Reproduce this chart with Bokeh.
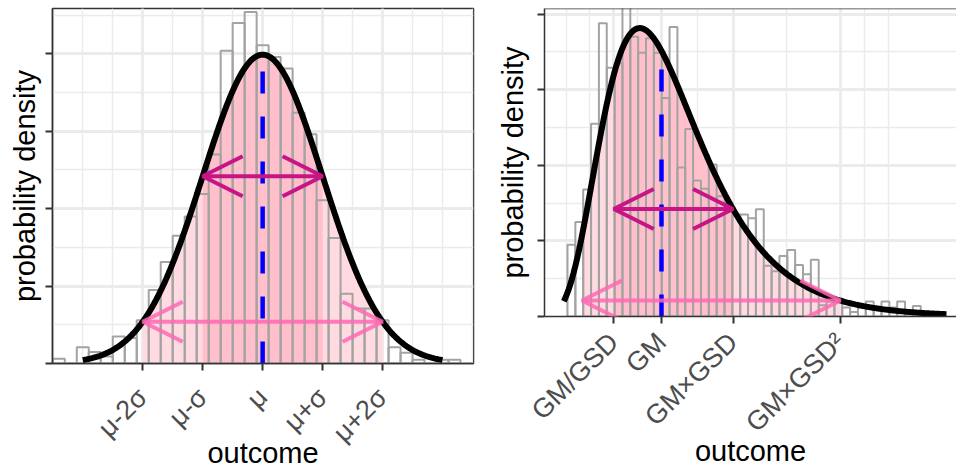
import numpy as np
from bokeh.plotting import figure
from bokeh.layouts import row
from bokeh.models import FixedTicker, Arrow, OpenHead, Span, Range1d
from bokeh.embed import file_html
from bokeh.resources import INLINE

# ---- normal distribution panel -------------------------------------------
norm_mu = 0.0
norm_sigma = 1.0
norm_bin_width = 0.2
norm_bin_centers = [-3.4, -3.2, -3.0, -2.8, -2.6, -2.4, -2.2, -2.0, -1.8, -1.6,
                    -1.4, -1.2, -1.0, -0.8, -0.6, -0.4, -0.2, 0.0, 0.2, 0.4,
                    0.6, 0.8, 1.0, 1.2, 1.4, 1.6, 1.8, 2.0, 2.2, 2.4,
                    2.6, 2.8, 3.0, 3.2]
norm_hist_density = [0.006, 0.0, 0.021, 0.015, 0.009, 0.035, 0.033, 0.056, 0.095, 0.131,
                     0.165, 0.19, 0.219, 0.27, 0.404, 0.44, 0.454, 0.411, 0.396, 0.381,
                     0.324, 0.296, 0.211, 0.162, 0.090, 0.071, 0.071, 0.056, 0.021, 0.014,
                     0.005, 0.0, 0.005, 0.005]
norm_tick_k = [-2, -1, 0, 1, 2]
norm_tick_labels = ["μ-2σ", "μ-σ", "μ", "μ+σ", "μ+2σ"]

# ---- log-normal distribution panel ---------------------------------------
lnorm_gm = 2.8
lnorm_gsd = 1.5
lnorm_bin_start = 0.961
lnorm_bin_width = 0.1536
lnorm_hist_density = [0.095, 0.125, 0.168, 0.255, 0.388, 0.329, 0.335, 0.42, 0.37, 0.349,
                      0.368, 0.349, 0.289, 0.383, 0.197, 0.248, 0.180, 0.169, 0.201, 0.159,
                      0.150, 0.135, 0.135, 0.130, 0.142, 0.067, 0.060, 0.080, 0.088, 0.068,
                      0.056, 0.075, 0.015, 0.020, 0.020, 0.012, 0.006, 0.012, 0.020, 0.012,
                      0.020, 0.012, 0.020, 0.008, 0.014]
lnorm_curve_range = (0.889, 8.377)
lnorm_tick_p = [-1, 0, 1, 2]
lnorm_tick_labels = ["GM/GSD", "GM", "GM×GSD", "GM×GSD²"]

density_ticks = [0.0, 0.1, 0.2, 0.3, 0.4]

FONT = "Liberation Sans"
PINK_LIGHT = "#FFDAE0"
PINK_DARK = "#FFC0CB"
GRID = "#EBEBEB"
BORDER = "#333333"
BAR_LINE = "#A3A3A3"
ARROW_WIDE = "#FF69B4"
ARROW_NARROW = "#C71585"


def dnorm(x):
    return np.exp(-(x - norm_mu) ** 2 / (2 * norm_sigma ** 2)) / (norm_sigma * np.sqrt(2 * np.pi))


def dlnorm(x):
    s = np.log(lnorm_gsd)
    return np.exp(-(np.log(x) - np.log(lnorm_gm)) ** 2 / (2 * s ** 2)) / (x * s * np.sqrt(2 * np.pi))


def style(p, xticks, xminor, xlabels, yminor, label_standoff, title_standoff, ytitle_standoff):
    p.background_fill_color = "white"
    p.border_fill_color = "white"
    p.xaxis.ticker = FixedTicker(ticks=xticks, minor_ticks=xminor)
    p.yaxis.ticker = FixedTicker(ticks=density_ticks, minor_ticks=yminor)
    p.xaxis.major_label_overrides = {t: lab for t, lab in zip(xticks, xlabels)}
    p.yaxis.major_label_overrides = {t: "" for t in density_ticks}
    p.xaxis.major_label_orientation = np.pi / 4
    for ax in (p.xaxis, p.yaxis):
        ax.minor_tick_line_color = None
        ax.major_tick_in = 0
        ax.major_tick_out = 7
        ax.major_tick_line_color = BORDER
        ax.major_tick_line_width = 2
        ax.axis_line_color = BORDER
        ax.axis_line_width = 1.5
        ax.axis_label_text_font = FONT
        ax.axis_label_text_font_size = "29px"
        ax.axis_label_text_font_style = "normal"
        ax.axis_label_text_color = "black"
        ax.major_label_text_font = FONT
        ax.major_label_text_font_size = "27px"
        ax.major_label_text_color = "#4D4D4D"
    p.yaxis.major_label_standoff = 0
    p.yaxis.axis_label_standoff = ytitle_standoff
    p.xaxis.major_label_standoff = label_standoff
    p.xaxis.axis_label_standoff = title_standoff
    p.xaxis.axis_label = "outcome"
    p.yaxis.axis_label = "probability density"
    for g in (p.xgrid, p.ygrid):
        g.grid_line_color = GRID
        g.grid_line_width = 2.8
        g.minor_grid_line_color = GRID
        g.minor_grid_line_width = 1.4


def add_arrows(p, pairs):
    for (xa, xb, yv), col, alpha in pairs:
        p.add_layout(Arrow(
            start=OpenHead(size=40, line_color=col, line_width=4, line_alpha=alpha),
            end=OpenHead(size=40, line_color=col, line_width=4, line_alpha=alpha),
            x_start=xa, y_start=yv, x_end=xb, y_end=yv,
            line_color=col, line_width=4, line_alpha=alpha))


# ---- left: normal --------------------------------------------------------
p1 = figure(frame_width=421, frame_height=355, min_border_left=52, min_border_right=5,
            min_border_top=7, min_border_bottom=108,
            x_range=Range1d(-3.505, 3.517), y_range=Range1d(0, 0.4586),
            toolbar_location=None, output_backend="svg")
p1.outline_line_color = BORDER
p1.outline_line_width = 1.5
n_ticks = [norm_mu + k * norm_sigma for k in norm_tick_k]
n_minor = [norm_mu + k * norm_sigma for k in np.arange(-3.5, 3.51, 0.5)]
style(p1, n_ticks, n_minor, norm_tick_labels, [0.05, 0.15, 0.25, 0.35, 0.45], 22, -24, 5)

x2 = np.linspace(norm_mu - 2 * norm_sigma, norm_mu + 2 * norm_sigma, 300)
p1.varea(x=x2, y1=0, y2=dnorm(x2), fill_color=PINK_LIGHT)
x1 = np.linspace(norm_mu - norm_sigma, norm_mu + norm_sigma, 200)
p1.varea(x=x1, y1=0, y2=dnorm(x1), fill_color=PINK_DARK)

nc = np.array(norm_bin_centers)
p1.quad(left=nc - norm_bin_width / 2, right=nc + norm_bin_width / 2, bottom=0,
        top=norm_hist_density, fill_color=None, line_color=BAR_LINE, line_width=2)

xc = np.linspace(norm_mu - 3 * norm_sigma, norm_mu + 3 * norm_sigma, 400)
p1.line(xc, dnorm(xc), line_color="black", line_width=6)
p1.line([norm_mu, norm_mu], [0, dnorm(norm_mu)], line_color="#0000FF", line_width=4.5,
        line_dash="22 23")

add_arrows(p1, [
    ((norm_mu - 2 * norm_sigma, norm_mu + 2 * norm_sigma, float(dnorm(norm_mu + 2 * norm_sigma))),
     ARROW_WIDE, 0.85),
    ((norm_mu - norm_sigma, norm_mu + norm_sigma, float(dnorm(norm_mu + norm_sigma))),
     ARROW_NARROW, 1.0),
])

# ---- right: log-normal ---------------------------------------------------
p2 = figure(frame_width=412, frame_height=308, min_border_left=66, min_border_right=0,
            min_border_top=8, min_border_bottom=154,
            x_range=Range1d(0.511, 8.5725), y_range=Range1d(0, 0.4074),
            toolbar_location=None, output_backend="svg")
p2.outline_line_color = None
l_ticks = [lnorm_gm * lnorm_gsd ** k for k in lnorm_tick_p]
step = l_ticks[1] - l_ticks[0]
l_major_ext = [l_ticks[0] - step] + l_ticks + [l_ticks[-1] + step]
l_minor = []
for a, b in zip(l_major_ext[:-1], l_major_ext[1:]):
    l_minor += [a, (a + b) / 2]
l_minor.append(l_major_ext[-1])
style(p2, l_ticks, l_minor, lnorm_tick_labels, [0.05, 0.15, 0.25, 0.35], 14, -16, 9)
p2.add_layout(Span(location=0.4074, dimension="width", line_color=BORDER, line_width=1.5))

lo2, hi2 = lnorm_gm / lnorm_gsd ** 2, lnorm_gm * lnorm_gsd ** 2
x2 = np.linspace(lo2, hi2, 300)
p2.varea(x=x2, y1=0, y2=dlnorm(x2), fill_color=PINK_LIGHT)
lo1, hi1 = lnorm_gm / lnorm_gsd, lnorm_gm * lnorm_gsd
x1 = np.linspace(lo1, hi1, 200)
p2.varea(x=x1, y1=0, y2=dlnorm(x1), fill_color=PINK_DARK)

lh = np.array(lnorm_hist_density)
ledges = lnorm_bin_start + lnorm_bin_width * np.arange(len(lh) + 1)
p2.quad(left=ledges[:-1], right=ledges[1:], bottom=0, top=lh,
        fill_color=None, line_color=BAR_LINE, line_width=2)

xc = np.linspace(lnorm_curve_range[0], lnorm_curve_range[1], 400)
p2.line(xc, dlnorm(xc), line_color="black", line_width=6)
p2.line([lnorm_gm, lnorm_gm], [0, float(dlnorm(lnorm_gm))], line_color="#0000FF",
        line_width=4.5, line_dash="22 23")

add_arrows(p2, [
    ((lo2, hi2, float(dlnorm(hi2))), ARROW_WIDE, 0.85),
    ((lo1, hi1, float(dlnorm(hi1))), ARROW_NARROW, 1.0),
])

layout = row(p1, p2)
open("out.html", "w").write(file_html(layout, INLINE))
